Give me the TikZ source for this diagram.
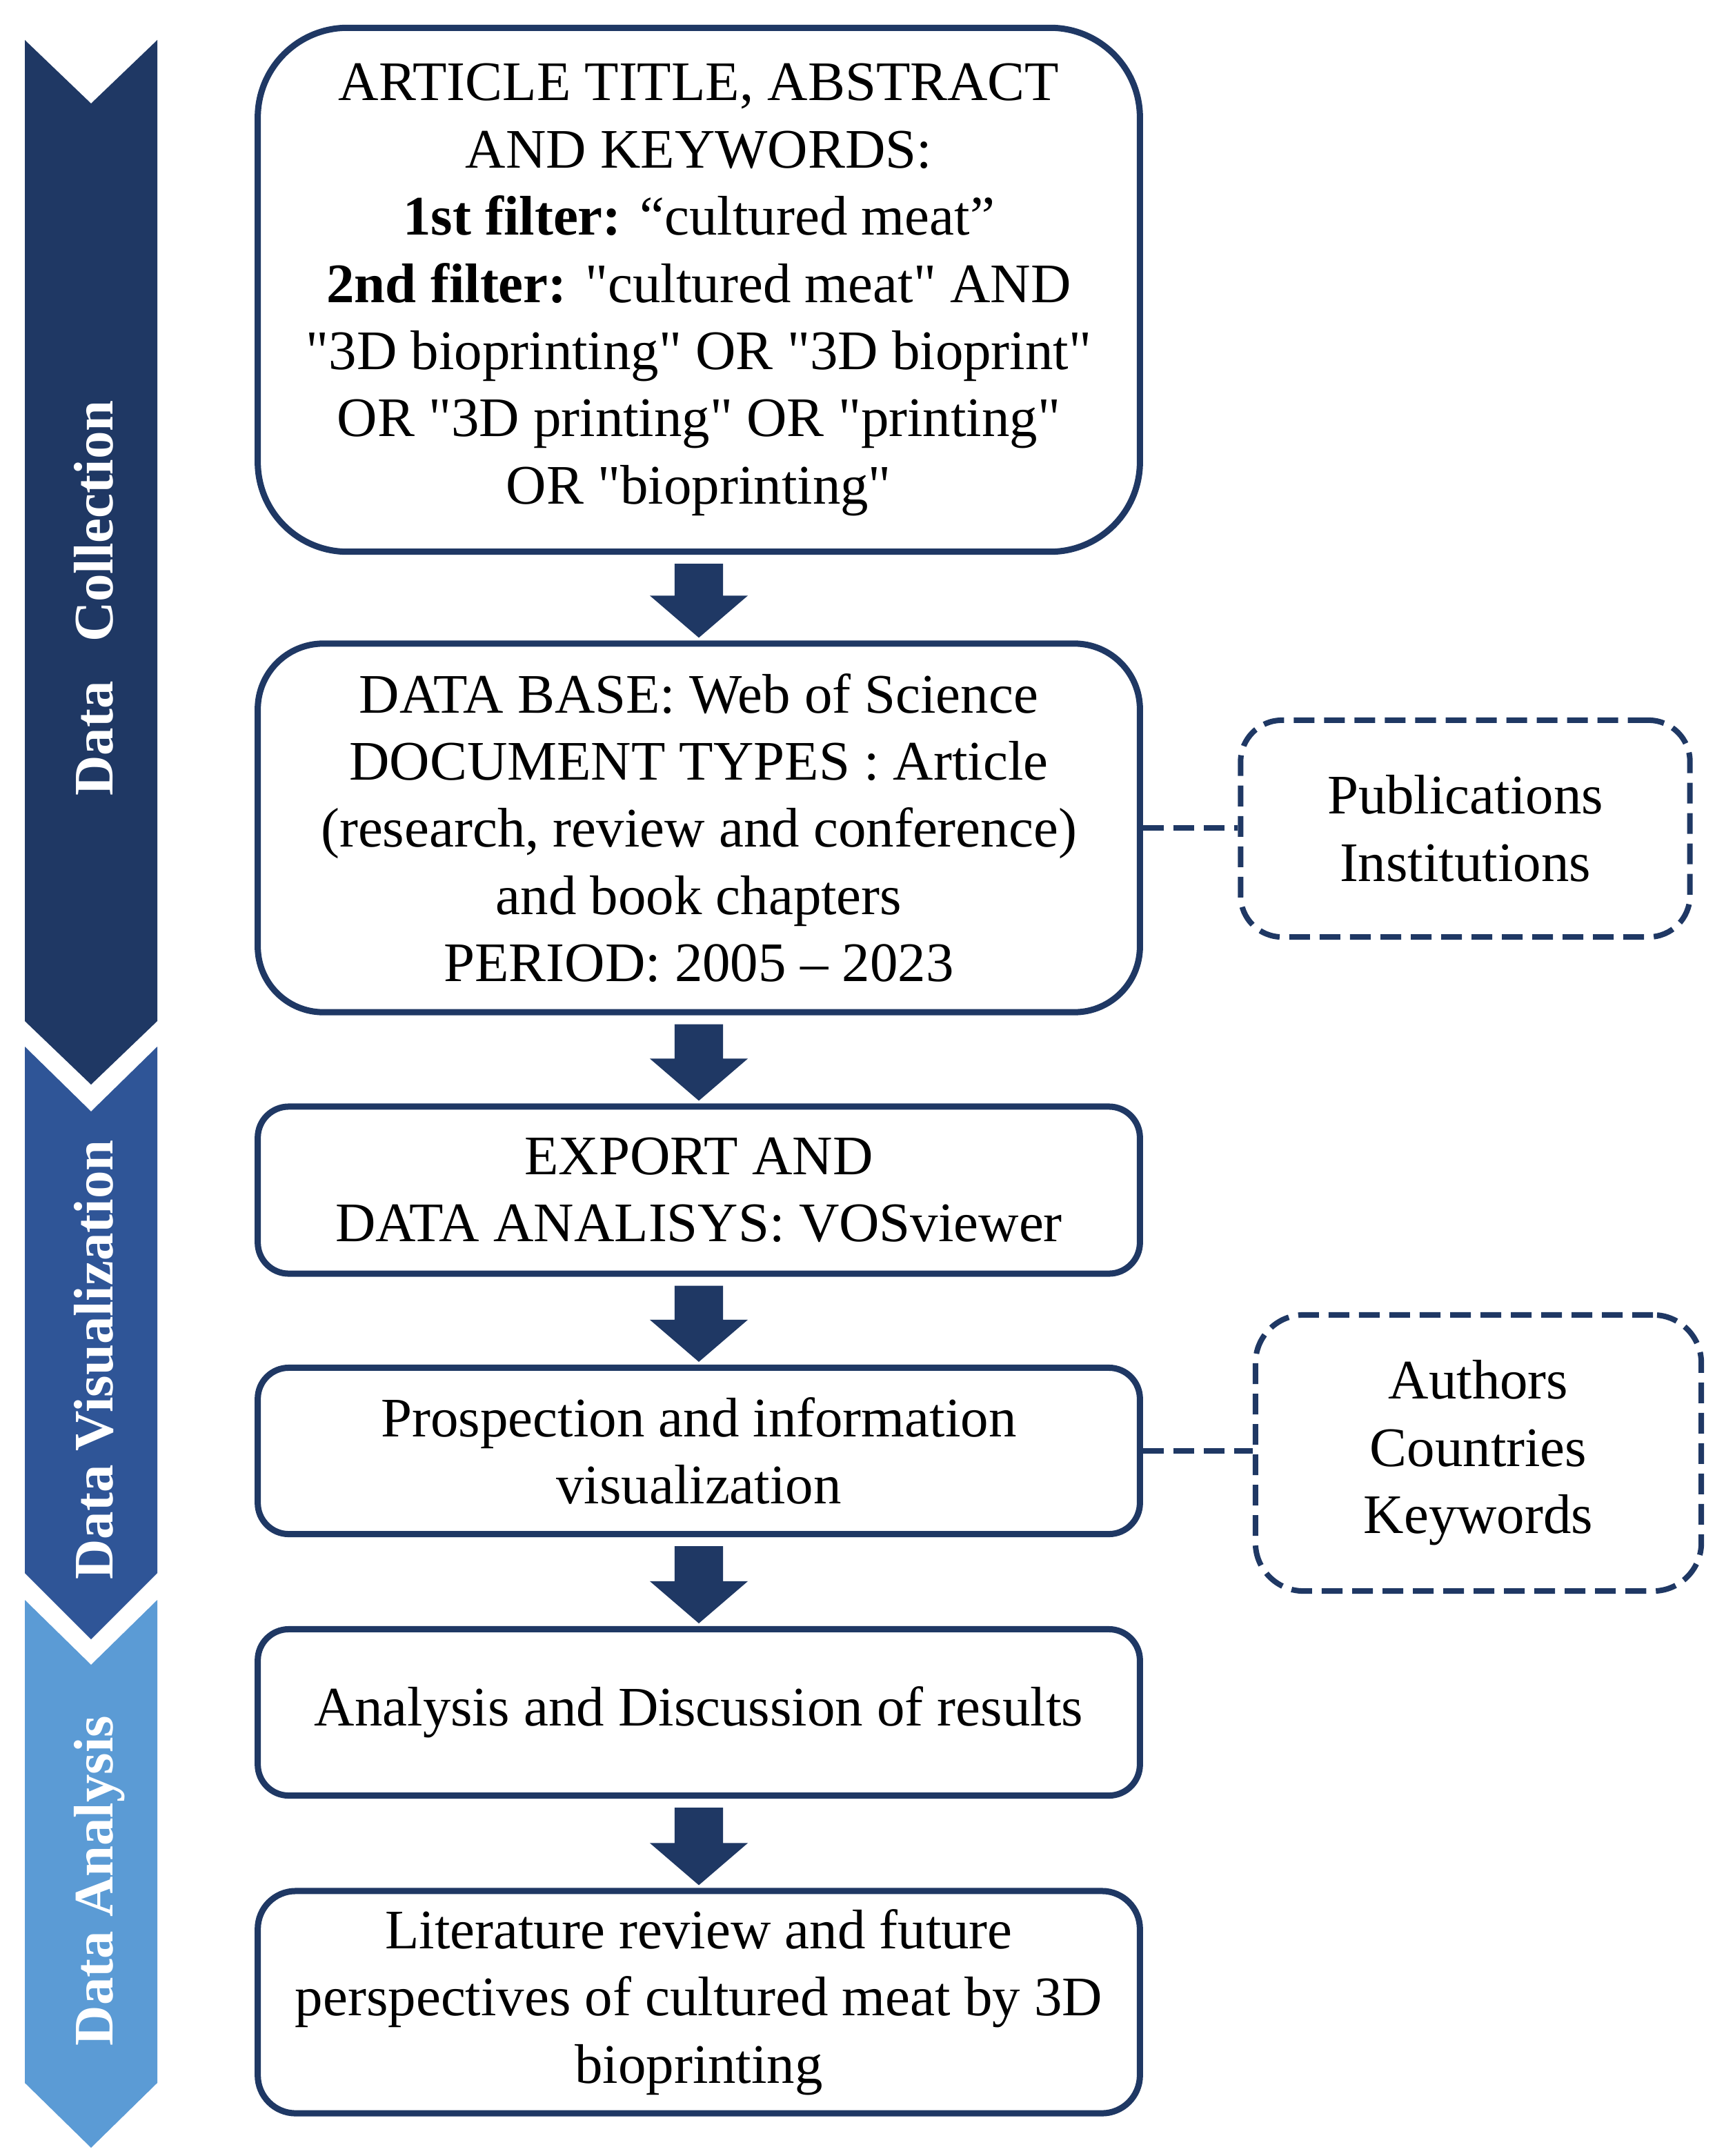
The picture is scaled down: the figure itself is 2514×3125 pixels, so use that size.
\documentclass[tikz,border=0pt]{standalone}
\usepackage{fontspec}
\setmainfont{Liberation Serif}[Ligatures=TeXOff]
\usetikzlibrary{calc}
\definecolor{navy}{RGB}{31,56,100}
\definecolor{midblue}{RGB}{47,85,151}
\definecolor{lightblue}{RGB}{91,155,213}
\newcommand{\flowarrow}[2]{%
  \fill[navy] let \p1=(#1.south), \p2=(#2.north) in
    (\x1-0.35cm,\y1-0.13cm) -- (\x1+0.35cm,\y1-0.13cm) -- (\x1+0.35cm,\y2+0.65cm)
    -- (\x1+0.71cm,\y2+0.65cm) -- (\x1,\y2+0.04cm) -- (\x1-0.71cm,\y2+0.65cm)
    -- (\x1-0.35cm,\y2+0.65cm) -- cycle;}
\begin{document}
\begin{tikzpicture}[x=0.01cm,y=-0.01cm,
  txt/.style={font=\fontsize{23}{27.7}\selectfont},
  mainbox/.style={draw=navy, line width=0.09cm, rounded corners=#1,
    minimum width=12.78cm, inner sep=0pt, align=center, txt},
  mainbox/.default=0.45cm,
  dashbox/.style={draw=navy, line width=0.08cm, dash pattern=on 0.3cm off 0.14cm,
    rounded corners=#1, inner sep=0pt, align=center, txt},
  dashbox/.default=0.6cm,
  dashlink/.style={draw=navy, line width=0.08cm, dash pattern=on 0.3cm off 0.14cm},
  barlabel/.style={text=white, font=\bfseries\fontsize{23}{27}\selectfont,
    rotate=90, anchor=base, inner sep=0pt}]
\useasboundingbox (0,0) rectangle (2514,3125);
\fill[white] (0,0) rectangle (2514,3125);

% phase bars
\fill[navy] (36,58) -- (132,150) -- (228,58) -- (228,1480) -- (132,1572) -- (36,1480) -- cycle;
\fill[midblue] (36,1517) -- (132,1611) -- (228,1517) -- (228,2280) -- (132,2376) -- (36,2280) -- cycle;
\fill[lightblue] (36,2319) -- (132,2413) -- (228,2319) -- (228,3019) -- (132,3113) -- (36,3019) -- cycle;
\node[barlabel] (lc) at (163,867) {Data\hspace{0.7em}Collection};
\node[barlabel] (lv) at (163,1971) {Data Visualization};
\node[barlabel] (la) at (163,2726) {Data Analysis};

% main flow
\node[mainbox=1.3cm, minimum height=7.59cm] (b1) at (1013,420)
  {\rule{0pt}{0.2cm}ARTICLE TITLE, ABSTRACT\\AND KEYWORDS:\\\textbf{1st filter:} “cultured meat”\\\textbf{2nd filter:} "cultured meat" AND\\"3D bioprinting" OR "3D bioprint"\\OR "3D printing" OR "printing"\\OR "bioprinting"};
\node[mainbox=0.95cm, minimum height=5.34cm] (b2) at (1013,1200)
  {DATA BASE: Web of Science\\DOCUMENT TYPES : Article\\(research, review and conference)\\and book chapters\\PERIOD: 2005 – 2023};
\node[mainbox, minimum height=2.42cm] (b3) at (1013,1725)
  {EXPORT AND\\DATA ANALISYS: VOSviewer};
\node[mainbox, minimum height=2.41cm] (b4) at (1013,2103)
  {Prospection and information\\visualization};
\node[mainbox, minimum height=2.41cm] (b5) at (1013,2482)
  {Analysis and Discussion of results};
\node[mainbox=0.55cm, minimum height=3.22cm] (b6) at (1013,2902)
  {Literature review and future\\perspectives of cultured meat by 3D\\bioprinting};

\flowarrow{b1}{b2}
\flowarrow{b2}{b3}
\flowarrow{b3}{b4}
\flowarrow{b4}{b5}
\flowarrow{b5}{b6}

% side boxes
\node[dashbox=0.6cm, minimum width=6.51cm, minimum height=3.14cm] (pub) at (2124,1201)
  {Publications\\Institutions};
\node[dashbox=0.7cm, minimum width=6.46cm, minimum height=4.0cm] (auth) at (2143,2106)
  {Authors\\Countries\\Keywords};
\draw[dashlink] (b2.east) -- (b2.east -| pub.west);
\draw[dashlink] (b4.east) -- (b4.east -| auth.west);
\end{tikzpicture}
\end{document}
